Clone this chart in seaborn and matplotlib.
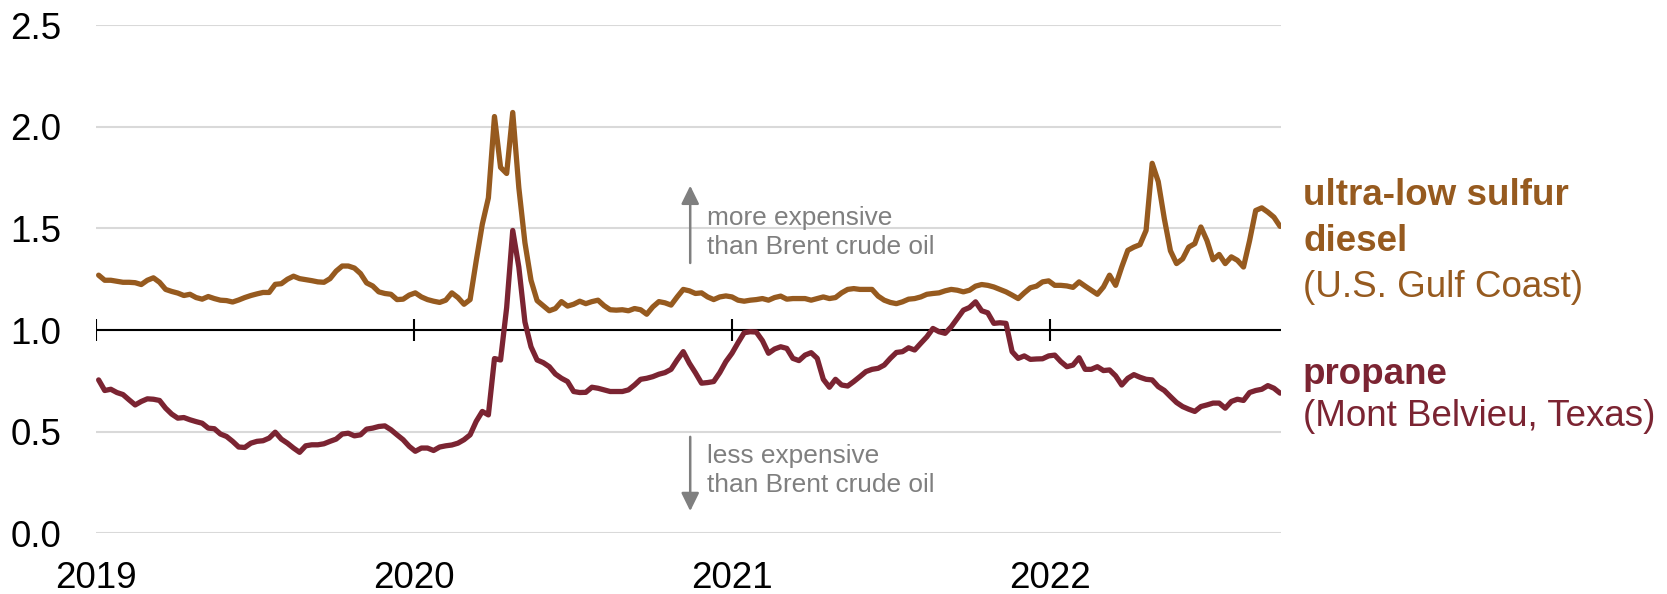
import matplotlib
matplotlib.use("Agg")
import matplotlib.pyplot as plt
import pandas as pd
import seaborn as sns

# weekly price ratio to Brent crude oil, first week ending 2019-01-04
start_week = "2019-01-04"
diesel = [
    1.27, 1.245, 1.245, 1.24, 1.235, 1.235, 1.233, 1.224, 1.245, 1.257,
    1.235, 1.20, 1.19, 1.182, 1.17, 1.176, 1.16, 1.152, 1.165, 1.155,
    1.147, 1.145, 1.138, 1.148, 1.16, 1.17, 1.178, 1.185, 1.185, 1.225,
    1.228, 1.25, 1.265, 1.253, 1.248, 1.243, 1.237, 1.235, 1.253, 1.29,
    1.315, 1.315, 1.305, 1.278, 1.232, 1.217, 1.188, 1.18, 1.176, 1.15,
    1.152, 1.172, 1.183, 1.163, 1.15, 1.142, 1.136, 1.147, 1.183, 1.16,
    1.127, 1.15, 1.34, 1.52, 1.65, 2.05, 1.80, 1.77, 2.07, 1.70,
    1.43, 1.245, 1.145, 1.12, 1.095, 1.106, 1.14, 1.118, 1.127, 1.142,
    1.13, 1.14, 1.147, 1.12, 1.10, 1.098, 1.10, 1.095, 1.106, 1.10,
    1.078, 1.114, 1.14, 1.134, 1.123, 1.163, 1.2, 1.193,
    1.18, 1.183, 1.163, 1.15, 1.163, 1.168, 1.163, 1.147, 1.142, 1.147,
    1.15, 1.155, 1.147, 1.16, 1.167, 1.152, 1.155, 1.155, 1.155, 1.147,
    1.155, 1.163, 1.155, 1.16, 1.183, 1.2, 1.204, 1.2, 1.2, 1.2,
    1.167, 1.147, 1.136, 1.13,
    1.139, 1.152, 1.155, 1.163, 1.176, 1.18, 1.183, 1.193, 1.2, 1.196,
    1.188, 1.196, 1.216, 1.224, 1.22, 1.212, 1.2, 1.188, 1.172, 1.155,
    1.183, 1.208, 1.216, 1.237, 1.242, 1.22, 1.22, 1.217, 1.21, 1.237,
    1.216, 1.196, 1.176,
    1.212, 1.27, 1.22, 1.31, 1.392, 1.408, 1.42, 1.49, 1.82, 1.73,
    1.547, 1.39, 1.327, 1.35, 1.408, 1.425, 1.507, 1.44, 1.346, 1.372,
    1.327, 1.36, 1.343, 1.31, 1.44, 1.588, 1.601, 1.58, 1.555, 1.51,
]
propane = [
    0.755, 0.703, 0.709, 0.693, 0.683, 0.657, 0.632, 0.649, 0.662, 0.66,
    0.654, 0.616, 0.587, 0.567, 0.57, 0.559, 0.55, 0.542, 0.518, 0.515,
    0.489, 0.477, 0.453, 0.425, 0.423, 0.444, 0.453, 0.456, 0.469, 0.498,
    0.464, 0.444, 0.42,
    0.399, 0.431, 0.436, 0.436, 0.441, 0.453, 0.464, 0.489, 0.493, 0.48,
    0.485, 0.513, 0.518, 0.526, 0.529, 0.51, 0.485, 0.461, 0.428, 0.404,
    0.42, 0.42, 0.408, 0.425, 0.431, 0.435, 0.444, 0.461, 0.485, 0.551,
    0.6, 0.583, 0.86,
    0.853, 1.11, 1.49, 1.31, 1.04, 0.918, 0.853, 0.84, 0.82, 0.784,
    0.763, 0.747, 0.698, 0.693, 0.694, 0.719, 0.714, 0.706, 0.698, 0.698,
    0.698, 0.706, 0.73, 0.758, 0.763, 0.771, 0.783, 0.791, 0.807, 0.853,
    0.894, 0.837, 0.79,
    0.739, 0.742, 0.747, 0.791, 0.845, 0.886, 0.938, 0.987, 0.992, 0.99,
    0.948, 0.886, 0.907, 0.918, 0.91, 0.861, 0.85, 0.877, 0.889, 0.861,
    0.758, 0.719, 0.758, 0.73, 0.725, 0.747, 0.771, 0.796, 0.807, 0.812,
    0.828, 0.861, 0.89,
    0.894, 0.913, 0.902, 0.935, 0.967, 1.008, 0.992, 0.984, 1.016, 1.057,
    1.098, 1.111, 1.139, 1.095, 1.085, 1.033, 1.036, 1.033, 0.894, 0.861,
    0.873, 0.856, 0.858, 0.859, 0.873, 0.877, 0.845, 0.82, 0.828, 0.864,
    0.807, 0.807, 0.82,
    0.801, 0.804, 0.775, 0.73, 0.763, 0.781, 0.768, 0.758, 0.755, 0.722,
    0.703, 0.673, 0.644, 0.624, 0.611, 0.6, 0.624, 0.632, 0.641, 0.641,
    0.616, 0.649, 0.66, 0.654, 0.693, 0.703, 0.709, 0.727, 0.714, 0.69,
]
years = ["2019", "2020", "2021", "2022"]
y_ticks = [0.0, 0.5, 1.0, 1.5, 2.0, 2.5]

DIESEL_COLOR = "#965A1F"
PROPANE_COLOR = "#7B2432"
GRAY = "#7F7F7F"

weeks = pd.date_range(start_week, periods=len(diesel), freq="W-FRI")
df = pd.DataFrame({"week": weeks, "diesel": diesel, "propane": propane})

sns.set_style("white")
plt.rcParams["font.family"] = ["Liberation Sans", "DejaVu Sans"]

fig = plt.figure(figsize=(16.67, 5.94), dpi=100)
ax = fig.add_axes([0.0576, 0.1019, 0.7108, 0.856])

sns.lineplot(data=df, x="week", y="diesel", color=DIESEL_COLOR, ax=ax, zorder=4)
sns.lineplot(data=df, x="week", y="propane", color=PROPANE_COLOR, ax=ax, zorder=4)
for line in ax.lines:
    line.set_linewidth(3.8)
    line.set_solid_joinstyle("round")
    line.set_solid_capstyle("round")

year_dates = pd.to_datetime(years)
ax.set_xlim(year_dates[0], pd.Timestamp("2022-09-24"))
ax.set_ylim(0, 2.5)

ax.set_yticks(y_ticks)
ax.set_yticklabels([f"{v:.1f}" for v in y_ticks])
ax.set_xticks(year_dates)
ax.set_xticklabels(years)
ax.tick_params(axis="y", length=0, pad=25, labelsize=26.5, labelcolor="black")
ax.tick_params(axis="x", length=0, pad=20, labelsize=26.5, labelcolor="black")
ax.set_xlabel("")
ax.set_ylabel("")

ax.grid(axis="y", color="#D9D9D9", lw=1.5)
ax.grid(axis="x", visible=False)
for s in ax.spines.values():
    s.set_visible(False)

# baseline at 1.0 with year ticks
ax.axhline(1.0, color="black", lw=1.5, zorder=3)
ax.vlines(year_dates, 1 - 0.056, 1 + 0.056, color="black", lw=1.5, zorder=3)

# direction notes
arrow_x = pd.Timestamp("2020-11-14")
note_x = pd.Timestamp("2020-12-03")
astyle = dict(arrowstyle="-|>,head_length=0.55,head_width=0.27", color=GRAY,
              lw=1.8, mutation_scale=20, shrinkA=0, shrinkB=0)
ax.annotate("", xy=(arrow_x, 1.71), xytext=(arrow_x, 1.33), arrowprops=astyle)
ax.annotate("", xy=(arrow_x, 0.11), xytext=(arrow_x, 0.475), arrowprops=astyle)
ax.text(note_x, 1.478, "more expensive\nthan Brent crude oil", color=GRAY,
        fontsize=18.9, va="center", ha="left", linespacing=1.25)
ax.text(note_x, 0.31, "less expensive\nthan Brent crude oil", color=GRAY,
        fontsize=18.9, va="center", ha="left", linespacing=1.25)

# series labels
lx = 1303 / 1667
fig.text(lx, 0.6717, "ultra-low sulfur", color=DIESEL_COLOR, fontsize=26.5,
         fontweight="bold", va="center", ha="left")
fig.text(lx, 0.5926, "diesel", color=DIESEL_COLOR, fontsize=26.5,
         fontweight="bold", va="center", ha="left")
fig.text(lx, 0.5168, "(U.S. Gulf Coast)", color=DIESEL_COLOR, fontsize=26.5,
         va="center", ha="left")
fig.text(lx, 0.3687, "propane", color=PROPANE_COLOR, fontsize=26.5,
         fontweight="bold", va="center", ha="left")
fig.text(lx, 0.298, "(Mont Belvieu, Texas)", color=PROPANE_COLOR, fontsize=26.5,
         va="center", ha="left")

fig.savefig("out.png", dpi=100)
plt.close(fig)
